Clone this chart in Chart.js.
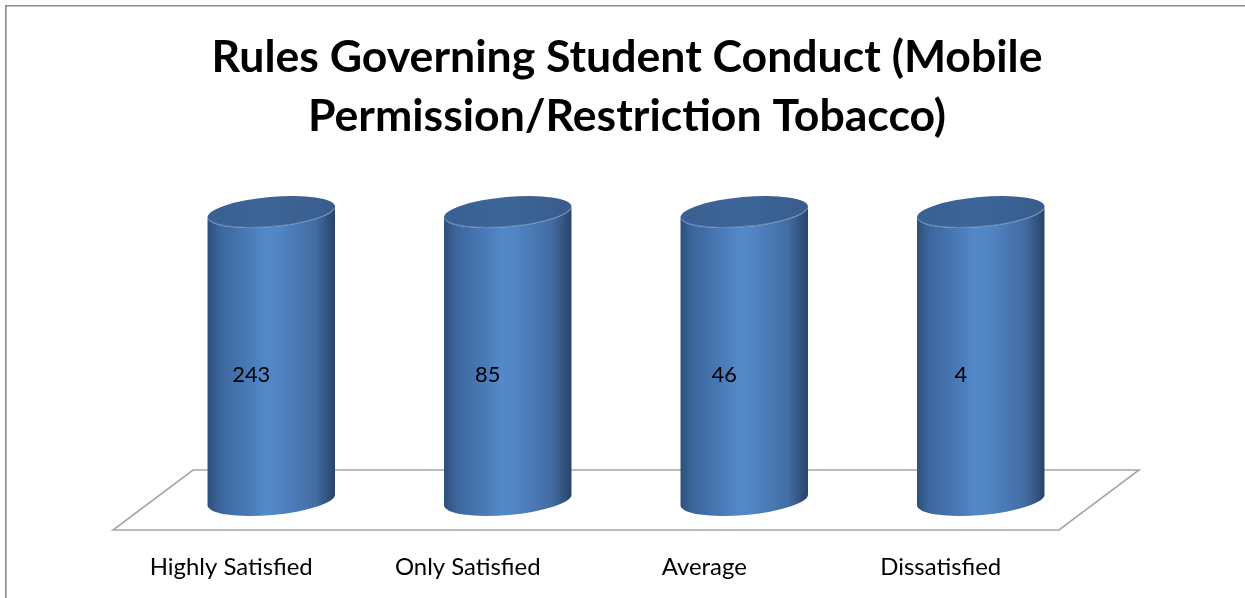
<!DOCTYPE html>
<html><head><meta charset="utf-8">
<script src="https://cdn.jsdelivr.net/npm/chart.js@4.4.1/dist/chart.umd.min.js"></script>
<style>html,body{margin:0;padding:0;background:#fff;overflow:hidden}canvas{display:block}</style>
</head><body>
<canvas id="c" width="1245" height="598"></canvas>
<script>
// ---- data ----
const categories = ['Highly Satisfied', 'Only Satisfied', 'Average', 'Dissatisfied'];
const seriesName = 'Respondents';
const counts = [243, 85, 46, 4];
const titleLines = ['Rules Governing Student Conduct (Mobile', 'Permission/Restriction Tobacco)'];

// 100% stacked column: each category's share of its own total (single series)
const totals = categories.map((_, i) => counts[i]);
const shares = counts.map((v, i) => v / totals[i] * 100);

// ---- font fitting helpers ----
const mctx = document.createElement('canvas').getContext('2d');
function fit(text, weight, family, target) {
  mctx.font = weight + ' 100px ' + family;
  return 100 * target / mctx.measureText(text).width;
}
const FAMILY = 'Lato';
const titleSize = fit(titleLines[0], 'bold', FAMILY, 831);
const catSize = fit(categories[0], 'normal', FAMILY, 163);
const valSize = fit(String(counts[0]), 'normal', FAMILY, 38);

const DEPTH_X = 80, DEPTH_Y = -60;

const borderPlugin = {
  id: 'frame',
  beforeDraw(chart) {
    const ctx = chart.ctx;
    ctx.save();
    ctx.strokeStyle = '#8c8c8c';
    ctx.lineWidth = 1.6;
    ctx.beginPath();
    ctx.moveTo(5.8, 600); ctx.lineTo(5.8, 5.8); ctx.lineTo(1245, 5.8);
    ctx.stroke();
    ctx.restore();
  }
};

const floorPlugin = {
  id: 'floor',
  beforeDatasetsDraw(chart) {
    const ctx = chart.ctx, a = chart.chartArea;
    const base = chart.scales.y.getPixelForValue(0);
    ctx.save();
    ctx.strokeStyle = '#a6a6a6';
    ctx.lineWidth = 1.6;
    ctx.beginPath();
    ctx.moveTo(a.left, base);
    ctx.lineTo(a.right, base);
    ctx.lineTo(a.right + DEPTH_X, base + DEPTH_Y);
    ctx.lineTo(a.left + DEPTH_X, base + DEPTH_Y);
    ctx.closePath();
    ctx.stroke();
    ctx.restore();
  }
};

const cylinderPlugin = {
  id: 'cyl',
  afterDatasetsDraw(chart) {
    const ctx = chart.ctx;
    const meta = chart.getDatasetMeta(0);
    meta.data.forEach((bar, i) => {
      const p = bar.getProps(['x', 'y', 'base', 'width'], true);
      const cx = p.x + DEPTH_X / 2;
      const yT = p.y + DEPTH_Y / 2;
      const yB = p.base + DEPTH_Y / 2;
      const rx = p.width / 2, ry = 15, rot = -0.088;
      const c = Math.cos(rot), s = Math.sin(rot);
      const pt = (cy, t) => [cx + rx * Math.cos(t) * c - ry * Math.sin(t) * s,
                             cy + rx * Math.cos(t) * s + ry * Math.sin(t) * c];
      ctx.save();
      const g = ctx.createLinearGradient(cx - rx, 0, cx + rx, 0);
      g.addColorStop(0, 'rgb(44,78,122)');
      g.addColorStop(0.1, 'rgb(60,103,157)');
      g.addColorStop(0.3, 'rgb(72,120,180)');
      g.addColorStop(0.46, 'rgb(84,137,201)');
      g.addColorStop(0.58, 'rgb(80,131,194)');
      g.addColorStop(0.85, 'rgb(66,108,162)');
      g.addColorStop(1, 'rgb(40,66,102)');
      ctx.fillStyle = g;
      const tl = pt(yT, Math.PI), tr = pt(yT, 0);
      ctx.beginPath();
      ctx.moveTo(tl[0], tl[1]);
      const bl = pt(yB, Math.PI);
      ctx.lineTo(bl[0], bl[1]);
      ctx.ellipse(cx, yB, rx, ry, rot, Math.PI, 0, true);
      ctx.lineTo(tr[0], tr[1]);
      ctx.ellipse(cx, yT, rx, ry, rot, 0, Math.PI, false);
      ctx.closePath();
      ctx.fill();
      ctx.beginPath();
      ctx.ellipse(cx, yT, rx, ry, rot, 0, Math.PI * 2);
      const gc = ctx.createLinearGradient(cx - rx, 0, cx + rx, 0);
      gc.addColorStop(0, 'rgb(58,96,146)');
      gc.addColorStop(0.5, 'rgb(62,101,152)');
      gc.addColorStop(1, 'rgb(56,92,140)');
      ctx.fillStyle = gc;
      ctx.fill();
      ctx.beginPath();
      ctx.ellipse(cx, yT, rx - 0.5, ry - 0.5, rot, 0.15, Math.PI - 0.15, false);
      ctx.strokeStyle = 'rgba(125,165,215,0.55)';
      ctx.lineWidth = 1.2;
      ctx.stroke();
      ctx.fillStyle = '#000';
      ctx.font = 'normal ' + valSize + 'px ' + FAMILY;
      ctx.textAlign = 'center';
      ctx.textBaseline = 'middle';
      ctx.fillText(String(counts[i]), p.x + DEPTH_X / 4, (p.y + p.base) / 2 + DEPTH_Y / 4 + 4);
      ctx.restore();
    });
  }
};

new Chart(document.getElementById('c'), {
  type: 'bar',
  data: {
    labels: categories,
    datasets: [{
      label: seriesName,
      data: shares,
      backgroundColor: 'rgba(0,0,0,0)',
      borderWidth: 0,
      barPercentage: 0.541,
      categoryPercentage: 1
    }]
  },
  options: {
    responsive: false,
    animation: false,
    devicePixelRatio: 1,
    layout: { padding: { left: 50, right: 41, top: 0, bottom: 0 } },
    plugins: {
      legend: { display: false },
      tooltip: { enabled: false },
      title: {
        display: true,
        text: titleLines,
        color: '#000',
        font: { family: FAMILY, weight: 'bold', size: titleSize, lineHeight: 59 / titleSize },
        padding: { top: 28, bottom: 96 }
      }
    },
    scales: {
      x: {
        stacked: true,
        grid: { display: false },
        border: { display: false },
        ticks: { color: '#000', font: { family: FAMILY, size: catSize, lineHeight: 1.2 }, padding: 15, maxRotation: 0 },
        afterFit(scale) { scale.height = 68; }
      },
      y: {
        stacked: true, display: true, position: 'left', min: 0, max: 100,
        grid: { display: false }, border: { display: false }, ticks: { display: false },
        afterFit(scale) { scale.width = 63; }
      },
      yRight: {
        display: true, position: 'right', min: 0, max: 100,
        grid: { display: false }, border: { display: false }, ticks: { display: false },
        afterFit(scale) { scale.width = 145; }
      }
    }
  },
  plugins: [borderPlugin, floorPlugin, cylinderPlugin]
});
</script>
</body></html>
